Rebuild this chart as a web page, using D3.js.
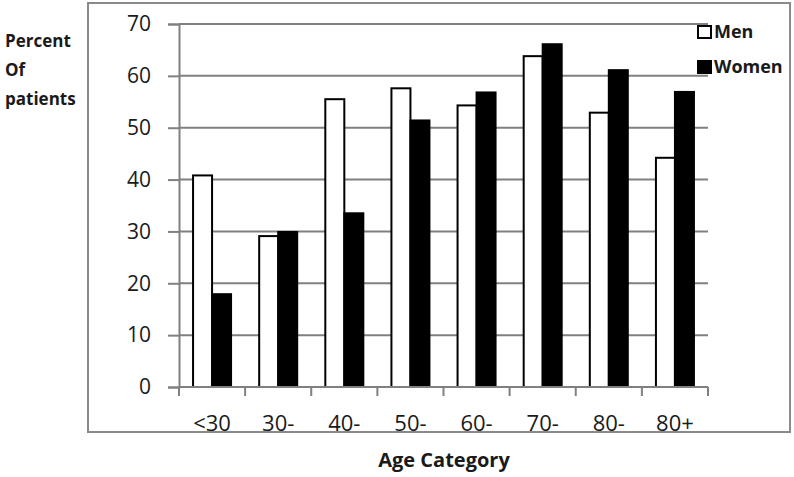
<!DOCTYPE html>
<html>
<head>
<meta charset="utf-8">
<script src="https://cdn.jsdelivr.net/npm/d3@7"></script>
<style>
  body { margin: 0; background: #fff; }
  svg { display: block; font-family: "Open Sans", sans-serif; }
</style>
</head>
<body>
<svg id="chart" width="794" height="477"></svg>
<script>
'use strict';

const categories = ['<30', '30-', '40-', '50-', '60-', '70-', '80-', '80+'];
const menValues = [40.8, 29.1, 55.5, 57.6, 54.3, 63.8, 52.9, 44.2];
const womenValues = [17.9, 29.9, 33.5, 51.4, 56.8, 66.1, 61.1, 56.9];
const seriesNames = ['Men', 'Women'];
const yTicks = [0, 10, 20, 30, 40, 50, 60, 70];

const svg = d3.select('#chart');

// outer frame
svg.append('rect')
    .attr('x', 88).attr('y', 3)
    .attr('width', 702).attr('height', 429)
    .attr('fill', 'none')
    .attr('stroke', '#8a8a8a')
    .attr('stroke-width', 2);

const x = d3.scaleBand(categories, [179, 708]);
const xInner = d3.scaleBand(seriesNames, [0, x.bandwidth()]).paddingOuter(0.74);
const y = d3.scaleLinear([0, 70], [387, 24]);

// gridlines
svg.append('g')
    .selectAll('line')
    .data(yTicks.slice(1))
    .join('line')
    .attr('x1', 179).attr('x2', 708)
    .attr('y1', d => y(d)).attr('y2', d => y(d))
    .attr('stroke', '#808080')
    .attr('stroke-width', 2);

// y axis
const yAxis = svg.append('g')
    .attr('transform', 'translate(179,0)')
    .call(d3.axisLeft(y).tickValues(yTicks).tickSize(11).tickPadding(17));
yAxis.select('.domain').attr('stroke', '#808080').attr('stroke-width', 2);
yAxis.selectAll('.tick line').attr('stroke', '#808080').attr('stroke-width', 2);
yAxis.selectAll('.tick text')
    .attr('fill', '#1a1a1a')
    .attr('font-size', 21)
    .attr('font-family', '"Open Sans", sans-serif');

// x axis ticks at band edges
const bandEdges = categories.map(c => x(c)).concat([x(categories[categories.length - 1]) + x.bandwidth()]);
svg.append('g')
    .selectAll('line')
    .data(bandEdges)
    .join('line')
    .attr('x1', d => d).attr('x2', d => d)
    .attr('y1', y(0)).attr('y2', y(0) + 9)
    .attr('stroke', '#808080')
    .attr('stroke-width', 2);

// bars
const groups = svg.append('g')
    .selectAll('g')
    .data(categories)
    .join('g')
    .attr('transform', d => 'translate(' + x(d) + ',0)');

groups.selectAll('rect')
    .data((d, i) => [
        { key: 'Men', value: menValues[i] },
        { key: 'Women', value: womenValues[i] }
    ])
    .join('rect')
    .attr('x', d => xInner(d.key))
    .attr('y', d => y(d.value))
    .attr('width', xInner.bandwidth())
    .attr('height', d => y(0) - y(d.value))
    .attr('fill', d => (d.key === 'Men') ? '#fff' : '#000')
    .attr('stroke', '#000')
    .attr('stroke-width', 2);

// x axis baseline
svg.append('line')
    .attr('x1', 179).attr('x2', 708)
    .attr('y1', y(0)).attr('y2', y(0))
    .attr('stroke', '#808080')
    .attr('stroke-width', 2);

// category labels
svg.append('g')
    .selectAll('text')
    .data(categories)
    .join('text')
    .attr('x', d => x(d) + x.bandwidth() / 2)
    .attr('y', 431)
    .attr('text-anchor', 'middle')
    .attr('font-size', 22)
    .attr('fill', '#1a1a1a')
    .text(d => d);

// axis titles
svg.append('text')
    .attr('x', 444).attr('y', 467)
    .attr('text-anchor', 'middle')
    .attr('font-size', 20)
    .attr('font-weight', 'bold')
    .attr('fill', '#1a1a1a')
    .text('Age Category');

svg.append('g')
    .selectAll('text')
    .data(['Percent', 'Of', 'patients'])
    .join('text')
    .attr('x', 5)
    .attr('y', (d, i) => 47 + i * 29)
    .attr('font-size', 17)
    .attr('font-weight', 'bold')
    .attr('fill', '#1a1a1a')
    .text(d => d);

// legend
const legend = svg.append('g')
    .selectAll('g')
    .data(seriesNames)
    .join('g')
    .attr('transform', (d, i) => 'translate(698,' + (26 + i * 35) + ')');

legend.append('rect')
    .attr('width', 13).attr('height', 12)
    .attr('fill', d => (d === 'Men') ? '#fff' : '#000')
    .attr('stroke', '#000')
    .attr('stroke-width', 2);

legend.append('text')
    .attr('x', 16).attr('y', 12)
    .attr('font-size', 18)
    .attr('font-weight', 'bold')
    .attr('fill', '#1a1a1a')
    .text(d => d);
</script>
</body>
</html>
